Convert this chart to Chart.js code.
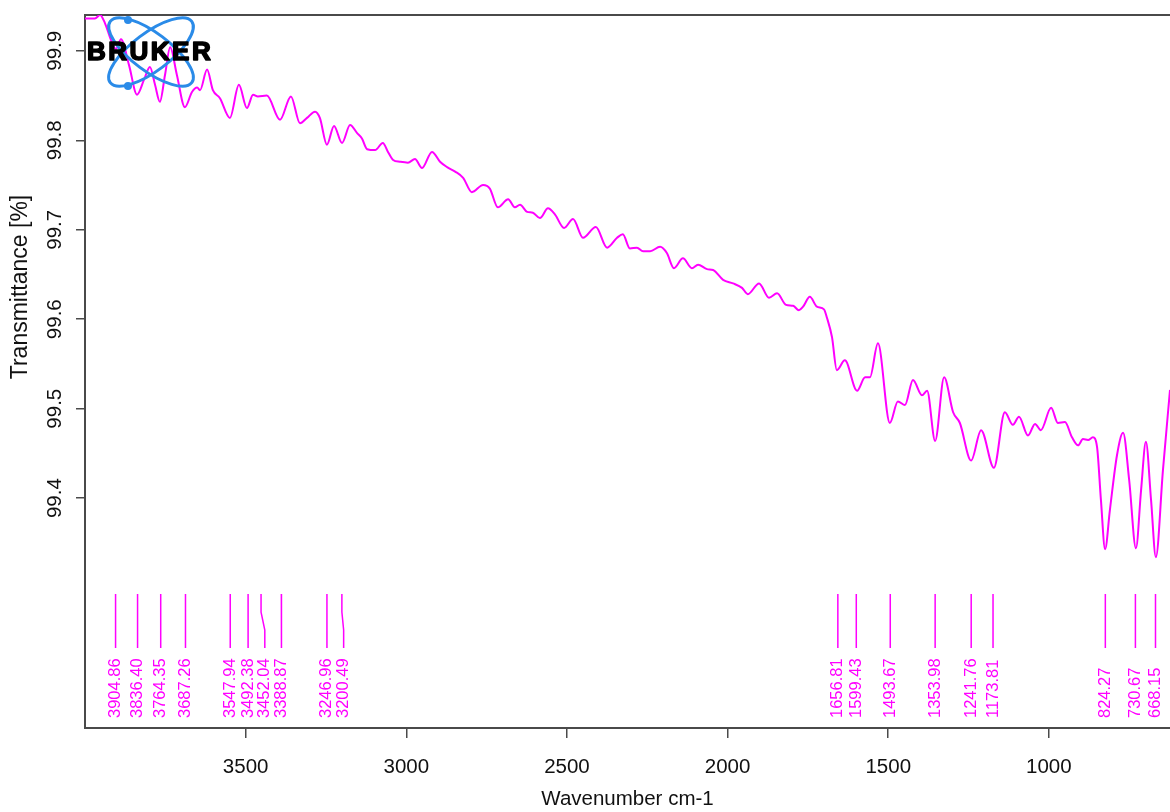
<!DOCTYPE html>
<html>
<head>
<meta charset="utf-8">
<title>IR spectrum</title>
<script src="https://cdn.jsdelivr.net/npm/chart.js@4/dist/chart.umd.min.js"></script>
<style>
html,body{margin:0;padding:0;background:#fff;overflow:hidden}
#wrap{width:1170px;height:812px;position:relative}
</style>
</head>
<body>
<div id="wrap"><canvas id="c"></canvas></div>
<script>
// ---- data ----
const wavenumbers = [
  4000,3969,3953,3938,3919,3904,3888,3863,3838,3816,
  3798,3782,3767,3751,3735,3714,3689,3667,3651,3642,
  3620,3602,3580,3549,3521,3496,3477,3462,3434,3393,
  3359,3331,3309,3284,3269,3247,3225,3200,3175,3153,
  3138,3122,3097,3073,3057,3041,3020,2995,2973,2951,
  2920,2895,2873,2848,2823,2796,2761,2740,2715,2683,
  2662,2646,2624,2606,2584,2559,2537,2509,2481,2450,
  2410,2375,2344,2326,2304,2282,2263,2241,2210,2189,
  2167,2139,2111,2092,2064,2045,2014,1983,1955,1937,
  1902,1871,1846,1818,1796,1778,1765,1744,1722,1700,
  1691,1675,1660,1635,1597,1572,1557,1532,
  1495,1470,1448,1423,1395,1379,1354,1326,1298,1277,
  1242,1211,1171,1137,1112,1093,1065,1043,1025,993,
  972,950,928,909,894,878,863,850,838,825,
  810,788,769,750,729,713,698,682,667,645,623
];
const transmittance = [
  99.936,99.936,99.940,99.931,99.912,99.902,99.913,99.884,99.851,99.868,
  99.882,99.862,99.843,99.873,99.904,99.873,99.837,99.854,99.859,99.856,
  99.879,99.856,99.847,99.825,99.862,99.836,99.851,99.849,99.850,99.823,
  99.849,99.819,99.825,99.832,99.825,99.795,99.816,99.797,99.817,99.808,
  99.802,99.790,99.789,99.797,99.787,99.778,99.776,99.775,99.779,99.769,
  99.787,99.776,99.770,99.765,99.758,99.742,99.750,99.746,99.725,99.734,
  99.725,99.728,99.720,99.719,99.713,99.724,99.717,99.702,99.712,99.691,
  99.703,99.680,99.691,99.695,99.679,99.680,99.676,99.676,99.681,99.674,
  99.657,99.668,99.657,99.661,99.656,99.655,99.644,99.640,99.635,99.628,
  99.640,99.624,99.629,99.616,99.615,99.610,99.614,99.625,99.614,99.611,
  99.602,99.580,99.543,99.554,99.520,99.535,99.535,99.573,
  99.484,99.508,99.504,99.532,99.515,99.520,99.464,99.535,99.496,99.484,
  99.442,99.476,99.434,99.496,99.482,99.491,99.470,99.483,99.476,99.501,
  99.484,99.485,99.468,99.459,99.466,99.465,99.468,99.457,99.398,99.343,
  99.387,99.448,99.473,99.420,99.344,99.409,99.463,99.398,99.334,99.431,99.521
];
const peakWavenumbers = [
  3904.86,3836.40,3764.35,3687.26,3547.94,3492.38,3452.04,3388.87,3246.96,3200.49,
  1656.81,1599.43,1493.67,1353.98,1241.76,1173.81,824.27,730.67,668.15
];
const xTickValues = [3500,3000,2500,2000,1500,1000];
const yTickValues = [99.4,99.5,99.6,99.7,99.8,99.9];

// ---- styling constants ----
const MAGENTA = '#ff00ff';
const AXIS = '#4a4a4a';
const TEXT = '#111111';
const FONT = '"Liberation Sans", Arial, Helvetica, sans-serif';

// peak marker geometry in the lower (peak) axis units 0..1
const MARK_TOP = 0.793, MARK_BEND1 = 0.686, MARK_BEND2 = 0.580, MARK_BOTTOM = 0.473, LABEL_BASE = 0.059;
const LABEL_GAP = 52; // minimum label separation, cm-1

// label positions spread so labels do not overlap
const peakLabelPos = [];
peakWavenumbers.forEach((wn, i) => {
  const prev = i ? peakLabelPos[i - 1] : Infinity;
  peakLabelPos.push(Math.min(wn, prev - LABEL_GAP));
});

const spectrum = wavenumbers.map((w, i) => ({x: w, y: transmittance[i]}));
const peakMarks = [];
peakWavenumbers.forEach((wn, i) => {
  const lp = peakLabelPos[i];
  peakMarks.push({x: wn, y: MARK_TOP}, {x: wn, y: MARK_BEND1}, {x: lp, y: MARK_BEND2}, {x: lp, y: MARK_BOTTOM}, {x: lp, y: null});
});

const peakLabelPlugin = {
  id: 'peakLabels',
  afterDatasetsDraw(chart) {
    const {ctx, scales} = chart;
    ctx.save();
    ctx.font = '16.5px ' + FONT;
    ctx.fillStyle = MAGENTA;
    ctx.textAlign = 'left';
    ctx.textBaseline = 'middle';
    const y = scales.yPeaks.getPixelForValue(LABEL_BASE);
    peakLabelPos.forEach((wn, i) => {
      const x = scales.x.getPixelForValue(wn);
      ctx.save();
      ctx.translate(x, y);
      ctx.rotate(-Math.PI / 2);
      ctx.fillText(peakWavenumbers[i].toFixed(2), 0, 0);
      ctx.restore();
    });
    ctx.restore();
  }
};

const logoPlugin = {
  id: 'brukerLogo',
  afterDraw(chart) {
    const ctx = chart.ctx;
    ctx.save();
    const blue = '#2a8be8';
    ctx.strokeStyle = blue;
    ctx.lineWidth = 3;
    const cx = 151, cy = 52;
    [37, -37].forEach(a => {
      ctx.beginPath();
      ctx.ellipse(cx, cy, 51, 19, a * Math.PI / 180, 0, Math.PI * 2);
      ctx.stroke();
    });
    ctx.fillStyle = blue;
    [[128, 20], [128, 86]].forEach(([x, y]) => {
      ctx.beginPath(); ctx.arc(x, y, 4, 0, Math.PI * 2); ctx.fill();
    });
    ctx.fillStyle = '#000';
    ctx.strokeStyle = '#000';
    ctx.lineWidth = 1.6;
    ctx.lineJoin = 'round';
    ctx.font = 'bold 26px ' + FONT;
    try { ctx.letterSpacing = '2.5px'; } catch (e) {}
    ctx.textAlign = 'left';
    ctx.textBaseline = 'middle';
    ctx.fillText('BRUKER', 87, 53);
    ctx.strokeText('BRUKER', 87, 53);
    ctx.restore();
  }
};

new Chart(document.getElementById('c'), {
  type: 'line',
  data: {
    datasets: [
      {label: 'Spectrum', data: spectrum, xAxisID: 'x', yAxisID: 'y', borderColor: MAGENTA,
       borderWidth: 2, pointRadius: 0, cubicInterpolationMode: 'monotone', fill: false},
      {label: 'Peaks', data: peakMarks, xAxisID: 'x', yAxisID: 'yPeaks', borderColor: MAGENTA,
       borderWidth: 1.5, pointRadius: 0, tension: 0, spanGaps: false, fill: false}
    ]
  },
  options: {
    responsive: true,
    maintainAspectRatio: false,
    animation: false,
    events: [],
    layout: {padding: {top: 15, left: 0, right: 0, bottom: 0}},
    plugins: {legend: {display: false}, tooltip: {enabled: false}, title: {display: false}},
    scales: {
      x: {
        type: 'linear', position: 'bottom', reverse: true, min: 623, max: 4000,
        afterBuildTicks: s => { s.ticks = xTickValues.map(v => ({value: v})); },
        ticks: {color: TEXT, font: {family: FONT, size: 20.5}, padding: 17, maxRotation: 0, autoSkip: false,
                callback: v => String(v)},
        grid: {display: true, drawOnChartArea: false, drawTicks: true, tickLength: 10, color: AXIS, lineWidth: 1.5},
        border: {display: true, color: AXIS, width: 2},
        title: {display: true, text: 'Wavenumber cm-1', color: TEXT, font: {family: FONT, size: 20.5},
                padding: {top: 9, bottom: 0}},
        afterFit: s => { s.height = 84; }
      },
      xTop: {
        type: 'linear', position: 'top', display: true,
        ticks: {display: false},
        grid: {display: false, drawTicks: false},
        border: {display: true, color: AXIS, width: 2},
        afterFit: s => { s.height = 0; }
      },
      yPeaks: {
        type: 'linear', position: 'left', stack: 'left', stackWeight: 169, min: 0, max: 1,
        ticks: {display: false},
        grid: {display: false},
        border: {display: true, color: AXIS, width: 2},
        afterFit: s => { s.width = 85; }
      },
      y: {
        type: 'linear', position: 'left', stack: 'left', stackWeight: 544, min: 99.332, max: 99.94,
        afterBuildTicks: s => { s.ticks = yTickValues.map(v => ({value: v})); },
        ticks: {color: TEXT, font: {family: FONT, size: 20.5}, minRotation: 90, maxRotation: 90,
                crossAlign: 'center', padding: 1, autoSkip: false, callback: v => v.toFixed(1)},
        grid: {display: true, drawOnChartArea: false, drawTicks: true, tickLength: 9, color: AXIS, lineWidth: 1.5},
        border: {display: true, color: AXIS, width: 2},
        title: {display: true, text: 'Transmittance [%]', color: TEXT, font: {family: FONT, size: 23},
                padding: {top: 7, bottom: 0}},
        afterFit: s => { s.width = 85; }
      }
    }
  },
  plugins: [logoPlugin, peakLabelPlugin]
});
</script>
</body>
</html>
